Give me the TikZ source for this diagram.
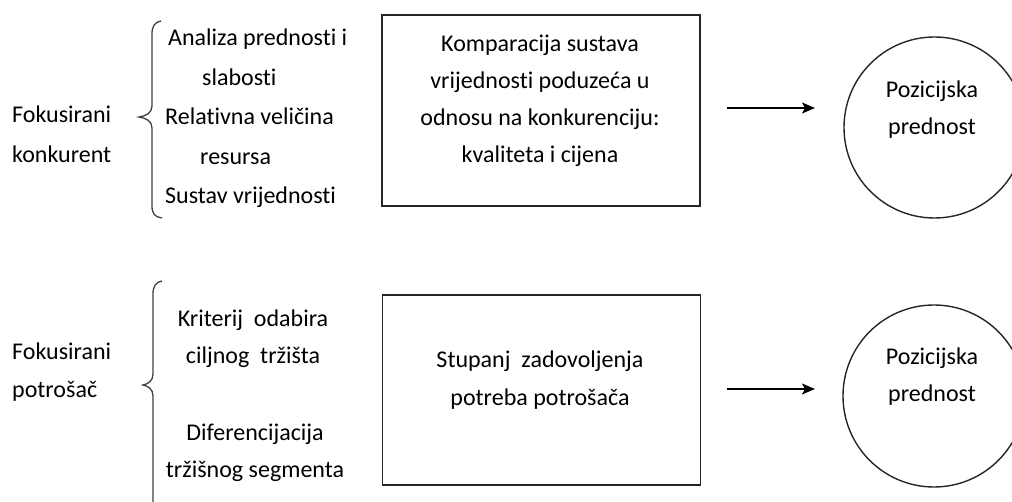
\documentclass[tikz,border=0pt]{standalone}
\usepackage{fontspec}
\setmainfont{Carlito}[RawFeature={-liga}]
\usetikzlibrary{arrows.meta}
\begin{document}
\begin{tikzpicture}[x=1pt,y=-1pt,
  ctxt/.style={font=\fontsize{24}{38}\selectfont, inner sep=0pt, align=center, anchor=base},
  ltxt/.style={font=\fontsize{24}{39.5}\selectfont, inner sep=0pt, align=left, anchor=base west},
  box/.style={draw=black!85, line width=1.8pt, minimum width=318pt, minimum height=191pt, inner sep=0pt},
  circ/.style={draw=black!85, line width=1.4pt, circle, minimum size=181pt, inner sep=0pt},
  arr/.style={draw=black, line width=1.6pt, -{Stealth[length=13pt,width=11pt,inset=3pt]}},
  brace/.style={draw=black!75, line width=1.3pt}]
\clip (0,0) rectangle (1012,502);

% top row
\node[ltxt, font=\fontsize{24}{40}\selectfont] (fk1) at (12,163) {Fokusirani\\konkurent};
\path[brace] (161,21) .. controls (155,22) and (152,26) .. (152,34) -- (152,106)
  .. controls (152,113) and (146,116) .. (139,117)
  .. controls (146,118) and (152,121) .. (152,128) -- (152,206)
  .. controls (152,214) and (155,217) .. (162,218);
\node[ltxt] (l1) at (168,46) {Analiza prednosti i};
\node[ltxt] (l2) at (202,85.5) {slabosti};
\node[ltxt] (l3) at (165,125) {Relativna veličina};
\node[ltxt] (l4) at (200,164.5) {resursa};
\node[ltxt] (l5) at (165,204) {Sustav vrijednosti};
\node[box] (b1) at (541,110.5) {};
\node[ctxt, font=\fontsize{24}{37}\selectfont] (t1) at (540,163) {Komparacija sustava\\vrijednosti poduzeća u\\odnosu na konkurenciju:\\kvaliteta i cijena};
\coordinate (a1s) at (727,108);
\coordinate (a1e) at (815,108);
\draw[arr] (a1s) -- (a1e);
\node[circ] (c1) at (934.5,127.5) {};
\node[ctxt, font=\fontsize{24}{37}\selectfont] (p1) at (932,135) {Pozicijska\\prednost};

% bottom row
\node[ltxt, font=\fontsize{24}{38}\selectfont] (fk2) at (12,398) {Fokusirani\\potrošač};
\path[brace] (162,281) .. controls (156,282) and (153,286) .. (153,294) -- (153,374)
  .. controls (153,381) and (148,384) .. (143,385)
  .. controls (148,386) and (153,389) .. (153,396) -- (153,505);
\node[ctxt, font=\fontsize{24}{37}\selectfont] (k1) at (253,364) {Kriterij \ odabira\\ciljnog \ tržišta};
\node[ctxt, font=\fontsize{24}{37}\selectfont] (k2) at (255,477) {Diferencijacija\\tržišnog segmenta};
\node[box, minimum height=190pt] (b2) at (541.5,390) {};
\node[ctxt, font=\fontsize{24}{38}\selectfont] (t2) at (540,406) {Stupanj \ zadovoljenja\\potreba potrošača};
\coordinate (a2s) at (727,389);
\coordinate (a2e) at (815,389);
\draw[arr] (a2s) -- (a2e);
\node[circ, minimum size=182pt] (c2) at (934,396) {};
\node[ctxt, font=\fontsize{24}{37}\selectfont] (p2) at (932,402) {Pozicijska\\prednost};
\end{tikzpicture}
\end{document}
